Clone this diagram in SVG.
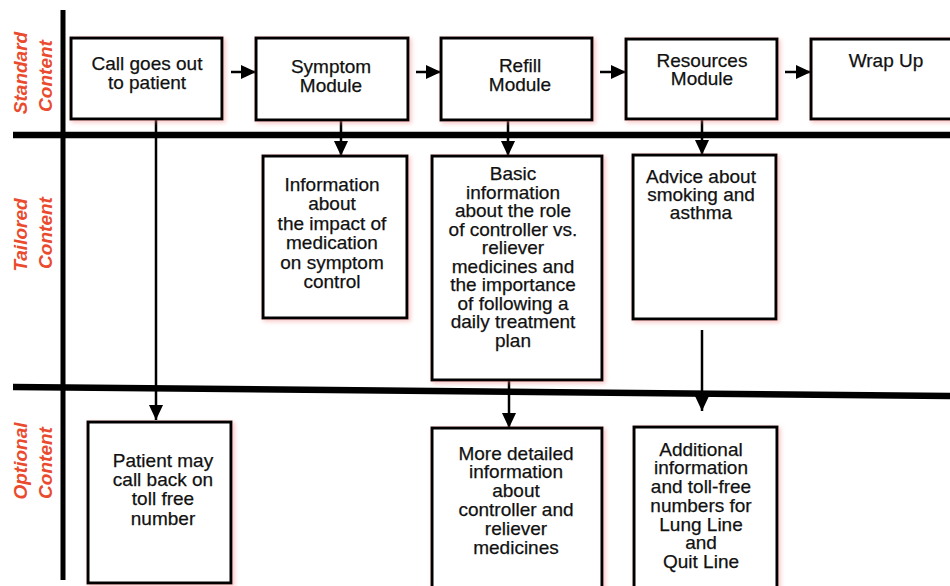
<svg xmlns="http://www.w3.org/2000/svg" width="950" height="586" viewBox="0 0 950 586">
<defs>
<style>
.box{fill:#fff;stroke:#000;stroke-width:3;filter:url(#sh)}
.t{font-family:"Liberation Sans",Arial,sans-serif;font-size:19px;fill:#111;text-anchor:middle;stroke:#111;stroke-width:0.25}
.lab{font-family:"Liberation Sans",Arial,sans-serif;font-size:19px;font-weight:bold;font-style:italic;fill:#ea4b2e;text-anchor:middle}
.bar{stroke:#000;stroke-width:6.5;fill:none}
.con{stroke:#000;stroke-width:2.5;fill:none;marker-end:url(#ah)}
</style>
<filter id="sh" x="-10%" y="-10%" width="125%" height="125%">
<feDropShadow dx="2" dy="2" stdDeviation="2" flood-color="#f08080" flood-opacity="0.45"/>
</filter>
<marker id="ah" viewBox="0 0 15 14" refX="15" refY="7" markerWidth="15" markerHeight="14" markerUnits="userSpaceOnUse" orient="auto">
<path d="M0,0 L15,7 L0,14 z" fill="#000"/>
</marker>
</defs>
<g id="lanes">
<line class="bar" x1="63" y1="10" x2="63" y2="580" style="stroke-width:5"/>
<line class="bar" x1="13" y1="135" x2="950" y2="135"/>
<line class="bar" x1="13" y1="387" x2="950" y2="396"/>
<text class="lab" transform="translate(27,73) rotate(-90)">Standard</text>
<text class="lab" transform="translate(52,76) rotate(-90)">Content</text>
<text class="lab" transform="translate(27,235) rotate(-90)">Tailored</text>
<text class="lab" transform="translate(52,233) rotate(-90)">Content</text>
<text class="lab" transform="translate(27,461) rotate(-90)">Optional</text>
<text class="lab" transform="translate(52,463) rotate(-90)">Content</text>
</g>
<g id="connectors">
<line class="con" x1="231" y1="72" x2="256" y2="72"/>
<line class="con" x1="416" y1="72" x2="441" y2="72"/>
<line class="con" x1="600" y1="72" x2="626" y2="72"/>
<line class="con" x1="785" y1="72" x2="811" y2="72"/>
<line class="con" x1="341" y1="120" x2="341" y2="156"/>
<line class="con" x1="508" y1="120" x2="508" y2="156"/>
<line class="con" x1="702" y1="120" x2="702" y2="155"/>
<line class="con" x1="156" y1="119" x2="156" y2="420"/>
<line class="con" x1="509" y1="380" x2="509" y2="428"/>
<line class="con" x1="702" y1="330" x2="702" y2="411"/>
</g>
<g id="call">
<rect class="box" x="71" y="38" width="151" height="81"/>
<text class="t" x="147" y="70">Call goes out</text>
<text class="t" x="147" y="89">to patient</text>
</g>
<g id="symptom">
<rect class="box" x="256" y="38" width="152" height="82"/>
<text class="t" x="331" y="73">Symptom</text>
<text class="t" x="331" y="92">Module</text>
</g>
<g id="refill">
<rect class="box" x="441" y="38" width="151" height="82"/>
<text class="t" x="520" y="72">Refill</text>
<text class="t" x="520" y="91">Module</text>
</g>
<g id="resources">
<rect class="box" x="626" y="39" width="151" height="80"/>
<text class="t" x="702" y="67">Resources</text>
<text class="t" x="702" y="85">Module</text>
</g>
<g id="wrapup">
<rect class="box" x="811" y="39" width="150" height="80"/>
<text class="t" x="886" y="67">Wrap Up</text>
</g>
<g id="info-impact">
<rect class="box" x="263" y="156" width="144" height="162"/>
<text class="t" x="332" y="191">Information</text>
<text class="t" x="332" y="210">about</text>
<text class="t" x="332" y="230">the impact of</text>
<text class="t" x="332" y="249">medication</text>
<text class="t" x="332" y="269">on symptom</text>
<text class="t" x="332" y="288">control</text>
</g>
<g id="basic-info">
<rect class="box" x="432" y="156" width="170" height="224"/>
<text class="t" x="513" y="180">Basic</text>
<text class="t" x="513" y="198.5">information</text>
<text class="t" x="513" y="217">about the role</text>
<text class="t" x="513" y="235.5">of controller vs.</text>
<text class="t" x="513" y="254">reliever</text>
<text class="t" x="513" y="272.5">medicines and</text>
<text class="t" x="513" y="291">the importance</text>
<text class="t" x="513" y="309.5">of following a</text>
<text class="t" x="513" y="328">daily treatment</text>
<text class="t" x="513" y="346.5">plan</text>
</g>
<g id="advice">
<rect class="box" x="633" y="155" width="143" height="164"/>
<text class="t" x="701" y="183">Advice about</text>
<text class="t" x="701" y="201">smoking and</text>
<text class="t" x="701" y="219">asthma</text>
</g>
<g id="callback">
<rect class="box" x="88" y="422" width="143" height="161"/>
<text class="t" x="163" y="467">Patient may</text>
<text class="t" x="163" y="486">call back on</text>
<text class="t" x="163" y="505">toll free</text>
<text class="t" x="163" y="525">number</text>
</g>
<g id="more-detailed">
<rect class="box" x="432" y="428" width="170" height="170"/>
<text class="t" x="516" y="460">More detailed</text>
<text class="t" x="516" y="478">information</text>
<text class="t" x="516" y="497">about</text>
<text class="t" x="516" y="516">controller and</text>
<text class="t" x="516" y="535">reliever</text>
<text class="t" x="516" y="554">medicines</text>
</g>
<g id="additional">
<rect class="box" x="634" y="427" width="143" height="170"/>
<text class="t" x="701" y="456">Additional</text>
<text class="t" x="701" y="474">information</text>
<text class="t" x="701" y="493">and toll-free</text>
<text class="t" x="701" y="512">numbers for</text>
<text class="t" x="701" y="531">Lung Line</text>
<text class="t" x="701" y="549">and</text>
<text class="t" x="701" y="568">Quit Line</text>
</g>
</svg>
